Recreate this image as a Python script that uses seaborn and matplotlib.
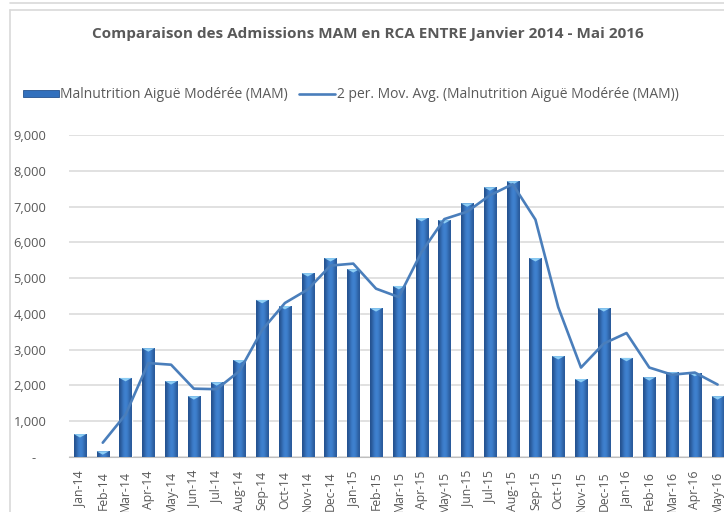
import numpy as np
import pandas as pd
import seaborn as sns
import matplotlib.pyplot as plt
from matplotlib.lines import Line2D
from matplotlib.patches import Patch
from matplotlib.path import Path
from matplotlib.colors import LinearSegmentedColormap
from matplotlib.ticker import FuncFormatter, MultipleLocator

# --- data ---
months = ['Jan-14', 'Feb-14', 'Mar-14', 'Apr-14', 'May-14', 'Jun-14', 'Jul-14',
          'Aug-14', 'Sep-14', 'Oct-14', 'Nov-14', 'Dec-14', 'Jan-15', 'Feb-15',
          'Mar-15', 'Apr-15', 'May-15', 'Jun-15', 'Jul-15', 'Aug-15', 'Sep-15',
          'Oct-15', 'Nov-15', 'Dec-15', 'Jan-16', 'Feb-16', 'Mar-16', 'Apr-16',
          'May-16']
mam_admissions = [640, 160, 2210, 3040, 2120, 1700, 2090,
                  2710, 4390, 4220, 5140, 5560, 5250, 4160,
                  4780, 6680, 6620, 7090, 7540, 7710, 5560,
                  2820, 2180, 4160, 2770, 2230, 2370, 2350,
                  1700]

title = 'Comparaison des Admissions MAM en RCA ENTRE Janvier 2014 - Mai 2016'
bar_label = 'Malnutrition Aiguë Modérée (MAM)'
line_label = '2 per. Mov. Avg. (Malnutrition Aiguë Modérée (MAM))'

df = pd.DataFrame({'month': months, 'mam': mam_admissions})
df['pos'] = np.arange(len(df))
# Excel "2 per. Mov. Avg." trendline
df['mov_avg'] = df['mam'].rolling(2).mean()

sns.set_theme(style='white')
plt.rcParams['font.family'] = ['Open Sans', 'DejaVu Sans']

text_col = '#595959'
grid_col = '#d9d9d9'
bar_col = '#3270bd'
line_col = '#4a7ebb'

fig = plt.figure(figsize=(7.24, 5.12), dpi=100)
ax = fig.add_axes([68.6 / 724, 55 / 512, (729 - 68.6) / 724, (457 - 135) / 512])

sns.barplot(data=df, x='pos', y='mam', color=bar_col, width=0.53,
            saturation=1, ax=ax, zorder=3)

# cylinder-like shading on each bar
grad = np.array([[0.0, 0.35, 0.7, 0.85, 0.75, 0.45, 0.15]])
cmap = LinearSegmentedColormap.from_list('barshade', ['#25528f', '#4083d2'])
for p in ax.patches:
    x0, y0 = p.get_x(), p.get_y()
    w, h = p.get_width(), p.get_height()
    im = ax.imshow(grad, cmap=cmap, extent=[x0, x0 + w, y0, y0 + h],
                   aspect='auto', zorder=3.5, interpolation='bicubic')
    im.set_clip_path(p)

# light bevel at the top of each bar
cap = Path([(-1, 0), (1, 0), (0, -0.55), (-1, 0)],
           [Path.MOVETO, Path.LINETO, Path.LINETO, Path.CLOSEPOLY])
sns.scatterplot(data=df, x='pos', y='mam', marker=cap, s=80, color='#8ccdf4',
                edgecolor='none', ax=ax, zorder=4, legend=False)

sns.lineplot(data=df.dropna(), x='pos', y='mov_avg', color=line_col,
             linewidth=1.9, ax=ax, zorder=5)

ax.set_xlim(-0.5, len(df) - 0.5)
ax.set_ylim(0, 9000)
ax.yaxis.set_major_locator(MultipleLocator(1000))
ax.yaxis.set_major_formatter(FuncFormatter(lambda v, _: '-   ' if v == 0 else f'{v:,.0f}'))
ax.set_xticks(df['pos'])
ax.set_xticklabels(months, rotation=90)
ax.set_xticks(np.arange(-0.5, len(df), 1), minor=True)
ax.tick_params(axis='x', which='major', length=0, pad=10, labelsize=8.8, labelcolor=text_col)
ax.tick_params(axis='x', which='minor', length=5, width=0.8, color='#bfbfbf', direction='out')
ax.tick_params(axis='y', length=0, pad=16, labelsize=9.3, labelcolor=text_col)
ax.set_xlabel('')
ax.set_ylabel('')
ax.grid(axis='y', color=grid_col, linewidth=1.1, zorder=0)
ax.set_axisbelow(True)
for side in ['top', 'right', 'left']:
    ax.spines[side].set_visible(False)
ax.spines['bottom'].set_color('#bfbfbf')
ax.spines['bottom'].set_linewidth(0.8)

fig.text(368 / 724, 1 - 34 / 512, title, ha='center', va='center',
         fontsize=11, fontweight='bold', color=text_col)

handles = [Patch(facecolor=bar_col, edgecolor='#25528f', linewidth=0.6),
           Line2D([0], [0], color=line_col, linewidth=1.9)]
fig.legend(handles, [bar_label, line_label], loc='center left',
           bbox_to_anchor=(23 / 724, 1 - 95 / 512), ncol=2, frameon=False,
           fontsize=10, labelcolor=text_col, handlelength=2.6,
           handleheight=0.4, handletextpad=0.1, columnspacing=0.8,
           borderpad=0, borderaxespad=0)

# outer frame of the Excel chart box (partly cropped in the reference)
frame = '#d9d9d9'
fig.add_artist(Line2D([10 / 724, 1], [1 - 2.5 / 512, 1 - 2.5 / 512], color=frame, linewidth=1.2))
fig.add_artist(Line2D([10 / 724, 1], [1 - 10 / 512, 1 - 10 / 512], color=frame, linewidth=1.2))
fig.add_artist(Line2D([10 / 724, 10 / 724], [0, 1 - 10 / 512], color=frame, linewidth=1.2))

fig.savefig('out.png', dpi=100)
